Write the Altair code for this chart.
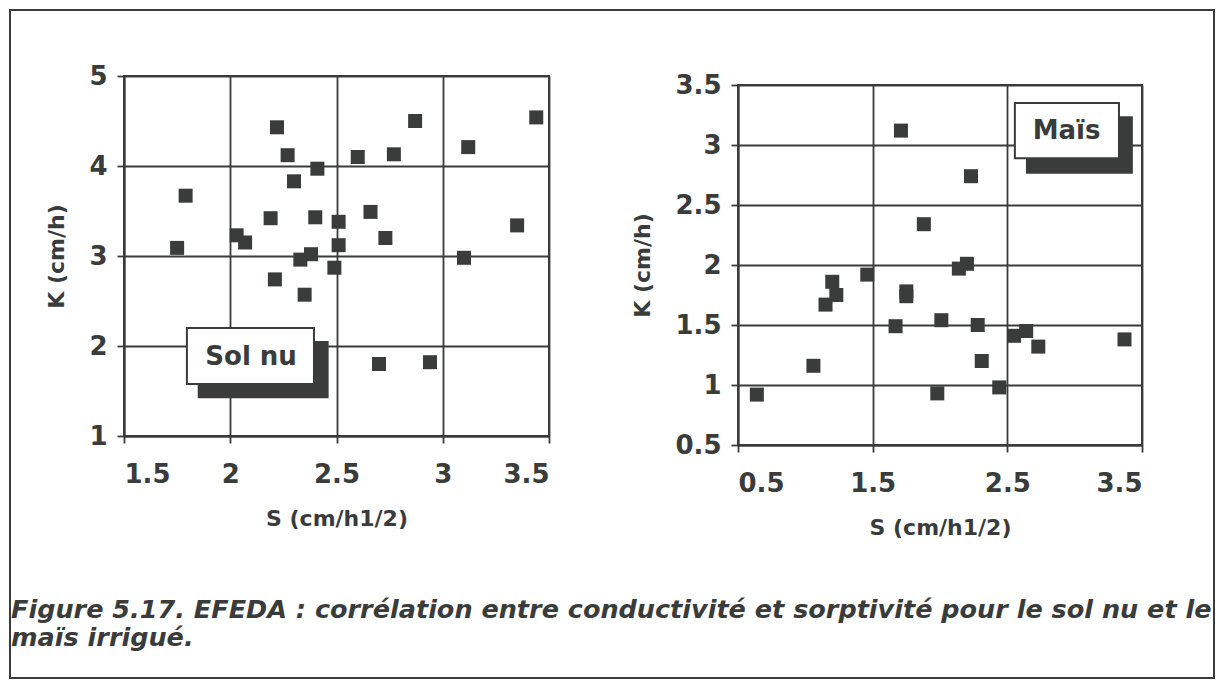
import altair as alt
import pandas as pd

# ---- data ----
sol_nu_S = [2.22, 2.87, 3.44, 2.27, 2.60, 2.77, 3.12, 2.41, 2.30, 1.79, 2.19, 2.40, 2.51, 2.66,
            2.73, 3.35, 2.03, 2.07, 1.75, 2.51, 2.38, 2.33, 2.49, 3.10, 2.21, 2.35, 2.70, 2.94]
sol_nu_K = [4.43, 4.50, 4.54, 4.12, 4.10, 4.13, 4.21, 3.97, 3.83, 3.67, 3.42, 3.43, 3.38, 3.49,
            3.20, 3.34, 3.23, 3.15, 3.09, 3.12, 3.02, 2.96, 2.87, 2.98, 2.74, 2.57, 1.80, 1.82]

mais_S = [0.64, 1.06, 1.15, 1.20, 1.23, 1.46, 1.71, 1.75, 1.75, 1.67, 1.88, 2.01, 1.98, 2.23,
          2.14, 2.20, 2.28, 2.31, 2.44, 2.55, 2.64, 2.73, 3.37]
mais_K = [0.92, 1.16, 1.67, 1.86, 1.75, 1.92, 3.12, 1.78, 1.74, 1.49, 2.34, 1.54, 0.93, 2.74,
          1.97, 2.01, 1.50, 1.20, 0.98, 1.41, 1.45, 1.32, 1.38]

left_x_ticks = [1.5, 2, 2.5, 3, 3.5]
left_y_ticks = [1, 2, 3, 4, 5]
right_x_ticks = [0.5, 1.5, 2.5, 3.5]
right_y_ticks = [0.5, 1, 1.5, 2, 2.5, 3, 3.5]

x_title = "S (cm/h1/2)"
y_title = "K (cm/h)"
label_left = "Sol nu"
label_right = "Maïs"
caption = ["Figure 5.17. EFEDA : corrélation entre conductivité et sorptivité pour le sol nu et le",
           "maïs irrigué."]

INK = "#3a3b3b"
FONT = "DejaVu Sans"

one = pd.DataFrame({"c": [0]})


def panel(S, K, xdom, ydom, xt, yt, width, box, shadow, label_pos, label, extra=None):
    df = pd.DataFrame({"S": S, "K": K})
    xs = alt.Scale(domain=xdom, nice=False, zero=False)
    ys = alt.Scale(domain=ydom, nice=False, zero=False)
    xa = alt.Axis(values=xt, labelExpr="'' + datum.value", title=x_title)
    ya = alt.Axis(values=yt, labelExpr="'' + datum.value", title=y_title)
    pts = alt.Chart(df).mark_square(size=196, color=INK, opacity=1).encode(
        x=alt.X("S:Q", scale=xs, axis=xa),
        y=alt.Y("K:Q", scale=ys, axis=ya),
    )
    bdf = pd.DataFrame({"S": [shadow[0], box[0]], "S2": [shadow[1], box[1]],
                        "K": [shadow[2], box[2]], "K2": [shadow[3], box[3]],
                        "kind": ["shadow", "box"]})
    sh = alt.Chart(bdf).transform_filter("datum.kind == 'shadow'").mark_rect(color=INK).encode(
        x=alt.X("S:Q", scale=xs, axis=xa), x2="S2:Q",
        y=alt.Y("K:Q", scale=ys, axis=ya), y2="K2:Q")
    bx = alt.Chart(bdf).transform_filter("datum.kind == 'box'").mark_rect(
        fill="white", stroke=INK, strokeWidth=2).encode(
        x=alt.X("S:Q", scale=xs, axis=xa), x2="S2:Q",
        y=alt.Y("K:Q", scale=ys, axis=ya), y2="K2:Q")
    tdf = pd.DataFrame({"S": [label_pos[0]], "K": [label_pos[1]], "t": [label]})
    tx = alt.Chart(tdf).mark_text(font=FONT, fontWeight="bold", fontSize=26, color=INK,
                                  align="center", baseline="middle").encode(
        x=alt.X("S:Q", scale=xs, axis=xa), y=alt.Y("K:Q", scale=ys, axis=ya), text="t:N")
    layers = [pts, sh, bx, tx]
    if extra:
        layers += extra
    return alt.layer(*layers).properties(
        width=width, height=360,
        view=alt.ViewBackground(stroke=INK, strokeWidth=2, fill="white"))


# outer frame and caption (decorations relative to the left panel)
frame = alt.Chart(one).mark_rect(fill="transparent", stroke=INK, strokeWidth=2).encode(
    x=alt.value(-114), x2=alt.value(1090), y=alt.value(-66), y2=alt.value(602))
cap = alt.Chart(one).mark_text(font=FONT, fontWeight="bold", fontStyle="italic", fontSize=25.5,
                               color=INK, align="left", baseline="alphabetic", lineHeight=28).encode(
    x=alt.value(-113), y=alt.value(542), text=alt.value(caption))

left = panel(sol_nu_S, sol_nu_K, [1.5, 3.5], [1, 5], left_x_ticks, left_y_ticks, 425,
             box=[1.796, 2.394, 2.20, 1.578], shadow=[1.847, 2.463, 2.056, 1.42],
             label_pos=[2.098, 1.878], label=label_left, extra=[frame, cap])

right = panel(mais_S, mais_K, [0.5, 3.5], [0.5, 3.5], right_x_ticks, right_y_ticks, 404,
              box=[2.556, 3.329, 3.35, 2.89], shadow=[2.638, 3.432, 3.24, 2.76],
              label_pos=[2.94, 3.12], label=label_right)

spacer = alt.Chart(one).mark_point(opacity=0).properties(
    width=404, height=1, view=alt.ViewBackground(stroke="transparent"))

right_col = alt.vconcat(spacer, right, spacing=8, bounds="flush")

chart = alt.hconcat(left, right_col, spacing=189, bounds="flush").properties(
    padding={"left": 0, "top": 0, "right": 0, "bottom": 0}
).configure(background="white").configure_axis(
    labelFont=FONT, labelFontWeight="bold", labelFontSize=26, labelColor=INK,
    titleFont=FONT, titleFontWeight="bold", titleFontSize=22, titleColor=INK,
    gridColor=INK, gridWidth=1.8, gridOpacity=1,
    domainColor=INK, domainWidth=2, tickColor=INK, tickWidth=1.8, tickSize=7,
    labelPadding=6, titlePadding=20,
).configure_axisX(labelPadding=18, titlePadding=21).configure_axisY(labelPadding=10, titlePadding=20)

chart.save("out.html", embed_options={"renderer": "svg", "actions": False})
